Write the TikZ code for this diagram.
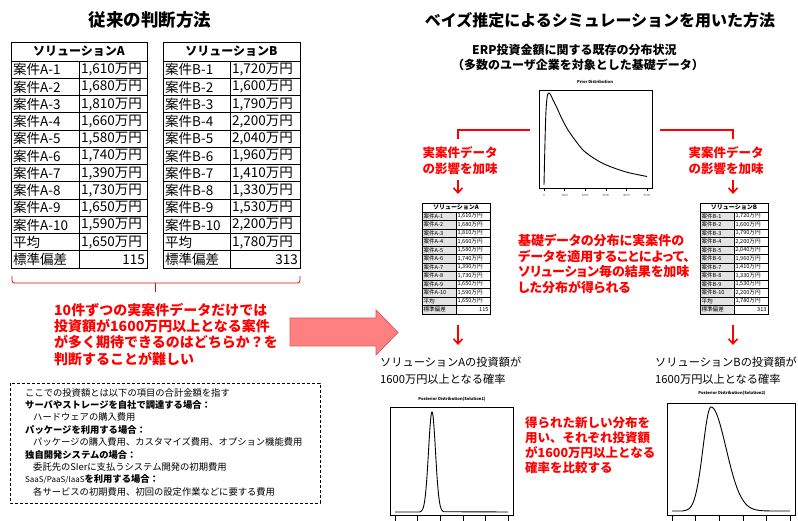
\documentclass[tikz,border=0pt]{standalone}
\usepackage{fontspec}
\setmainfont{Noto Sans CJK JP}
\newfontfamily\pfont{Noto Sans CJK JP}[RawFeature=+palt]
\usetikzlibrary{arrows.meta}
\definecolor{myred}{HTML}{FF0000}
\definecolor{arrowfill}{HTML}{FF8080}
\definecolor{arrowedge}{HTML}{E25A5A}

\newcommand\mytab[9]{%
  \pgfmathsetmacro\tabbot{#5+#6+12*#7}%
  \fill[tabfill] (#2,{#5+#6}) rectangle (#3,\tabbot);
  \draw[tabline] (#2,#5) rectangle (#4,\tabbot);
  \draw[tabline] (#3,{#5+#6}) -- (#3,\tabbot);
  \foreach \k in {0,...,11} \draw[tabline] (#2,{#5+#6+\k*#7}) -- (#4,{#5+#6+\k*#7});
  \node[tabhead] (#1-h) at ({(#2+#4)/2},{#5+#6/2}) {ソリューション#8};
  \foreach \v [count=\i] in {#9} {
    \pgfmathsetmacro\yc{#5+#6+(\i-0.5)*#7}
    \ifnum\i<11
      \node[tabcell,anchor=west] (#1-l\i) at (#2,\yc) {案件#8-\i};
      \node[tabcell,anchor=west] (#1-v\i) at (#3,\yc) {\v 万円};
    \else\ifnum\i=11
      \node[tabcell,anchor=west] (#1-l\i) at (#2,\yc) {平均};
      \node[tabcell,anchor=west] (#1-v\i) at (#3,\yc) {\v 万円};
    \else
      \node[tabcell,anchor=west] (#1-l\i) at (#2,\yc) {標準偏差};
      \node[tabcell,anchor=east] (#1-v\i) at (#4,\yc) {\v};
    \fi\fi
  }
}

\begin{document}
\begin{tikzpicture}[x=1pt,y=-1pt,
  title/.style={font=\bfseries\fontsize{17.5}{20}\selectfont, inner sep=0pt},
  title2/.style={font=\bfseries\fontsize{16}{19}\selectfont, inner sep=0pt},
  tabline/.style={line width=0.9pt, black},
  tabfill/.style={fill=white},
  tabhead/.style={font=\bfseries\fontsize{12}{14}\selectfont, inner sep=0pt},
  tabcell/.style={font=\fontsize{13.5}{15}\selectfont, inner xsep=2pt, inner ysep=0pt},
  redbig/.style={font=\bfseries\fontsize{14}{16}\selectfont, text=myred, inner sep=0pt, anchor=west},
  redmid/.style={font=\bfseries\fontsize{12.5}{15}\selectfont, text=myred, inner sep=0pt, anchor=west},
  redp/.style={font=\pfont\bfseries\fontsize{13}{15}\selectfont, text=myred, inner sep=0pt, anchor=west},
  redc/.style={font=\bfseries\fontsize{12.5}{15}\selectfont, text=myred, inner sep=0pt},
  note/.style={font=\fontsize{9.3}{11}\selectfont, inner sep=0pt, anchor=west},
  blk/.style={font=\fontsize{11.2}{14}\selectfont, inner sep=0pt, anchor=west},
  sub/.style={font=\bfseries\fontsize{12}{14}\selectfont, inner sep=0pt, anchor=west},
  redline/.style={myred, line width=2pt},
  redarrow/.style={myred, line width=1.6pt, -{Straight Barb[length=5pt,width=9pt,line width=1.6pt]}},
  plotbox/.style={draw, line width=0.8pt, inner sep=0pt},
  curve/.style={line width=0.9pt},
  ptitle/.style={font=\bfseries\fontsize{4}{5}\selectfont, inner sep=0pt},
  tick/.style={line width=0.5pt},
  ticklab/.style={font=\fontsize{3}{4}\selectfont, inner sep=0pt, text=black!70}
]
\useasboundingbox (0,0) rectangle (798,521);
\fill[white] (0,0) rectangle (798,521);

% ---------- titles ----------
\node[title] (t1) at (150,20) {従来の判断方法};
\node[title2] (t2) at (600,20) {ベイズ推定によるシミュレーションを用いた方法};

% ---------- big tables ----------
\mytab{TA}{11}{79}{147}{42}{19}{17.25}{A}{{1,610},{1,680},{1,810},{1,660},{1,580},{1,740},{1,390},{1,730},{1,650},{1,590},{1,650},{115}}
\mytab{TB}{163}{230}{300}{42}{19}{17.25}{B}{{1,720},{1,600},{1,790},{2,200},{2,040},{1,960},{1,410},{1,330},{1,530},{2,200},{1,780},{313}}

% ---------- bracket ----------
\coordinate (brL) at (12,276);
\coordinate (brR) at (300,276);
\coordinate (brM) at (155,283);
\coordinate (brT) at (155,292);
\draw[myred, line width=0.8pt, rounded corners=2.5pt] (brL) -- (12,283) -- (300,283) -- (brR);
\draw[myred, line width=0.8pt] (brM) -- (brT);

% ---------- red question text ----------
\foreach \t [count=\i] in {10件ずつの実案件データだけでは,投資額が1600万円以上となる案件,が多く期待できるのはどちらか？を,判断することが難しい}
  \node[redbig] (q\i) at (54,{310+16.2*(\i-1)}) {\t};

% ---------- big block arrow ----------
\draw[fill=arrowfill, draw=arrowedge, line width=0.8pt]
  (290,318) -- (376,318) -- (376,310) -- (398,332.5) -- (376,355) -- (376,346) -- (290,346) -- cycle;

% ---------- dashed note box ----------
\draw[dashed, line width=0.8pt, dash pattern=on 3pt off 2pt] (10,383) rectangle (320,503);
\node[note] (n1) at (25,392.5) {ここでの投資額とは以下の項目の合計金額を指す};
\node[note] (n2) at (25,404.9) {\textbf{サーバやストレージを自社で調達する場合：}};
\node[note] (n3) at (33,417.3) {ハードウェアの購入費用};
\node[note] (n4) at (25,429.7) {\textbf{パッケージを利用する場合：}};
\node[note] (n5) at (33,442.1) {パッケージの購入費用、カスタマイズ費用、オプション機能費用};
\node[note] (n6) at (25,454.5) {\textbf{独自開発システムの場合：}};
\node[note] (n7) at (33,466.9) {委託先のSIerに支払うシステム開発の初期費用};
\node[note] (n8) at (25,479.3) {{\fontsize{8}{10}\selectfont SaaS/PaaS/IaaS}\textbf{を利用する場合：}};
\node[note] (n9) at (33,491.7) {各サービスの初期費用、初回の設定作業などに要する費用};

% ---------- subtitle ----------
\node[sub] (s1) at (472,50) {ERP投資金額に関する既存の分布状況};
\node[sub] (s2) at (452,64.5) {（多数のユーザ企業を対象とした基礎データ）};

% ---------- prior plot ----------
\node[ptitle] (prt) at (595,82) {Prior Distribution};
\node[plotbox, minimum width=113pt, minimum height=98pt] (prior) at (595.5,139) {};
\draw[curve] plot[smooth, tension=0.55] coordinates {(544,185) (544.8,150) (545.8,115) (547,98) (548.5,93) (550.5,94.5) (553,100) (557,108) (562,119) (568,130) (575,140) (583,150) (592,157) (602,163) (614,168) (628,172.5) (647,176.5)};
\foreach \lab [count=\k from 0] in {0,1000,2000,3000,4000,5000} {
  \draw[tick] ({544+20.6*\k},188) -- ({544+20.6*\k},191);
  \node[ticklab] (pl\k) at ({544+20.6*\k},195) {\lab};
}

% ---------- red connectors from prior ----------
\coordinate (cL0) at (530,130);
\coordinate (cL1) at (458,139);
\coordinate (cR0) at (660,130);
\coordinate (cR1) at (733,139);
\draw[redline] (cL0) -| (cL1);
\draw[redline] (cR0) -| (cR1);
\node[redc] (effA1) at (460,153) {実案件データ};
\node[redc] (effA2) at (460,168.5) {の影響を加味};
\node[redc] (effB1) at (726,153) {実案件データ};
\node[redc] (effB2) at (726,168.5) {の影響を加味};
\coordinate (dA0) at (458,180);
\coordinate (dA1) at (458,194);
\coordinate (dB0) at (733,180);
\coordinate (dB1) at (733,194);
\draw[redarrow] (dA0) -- (dA1);
\draw[redarrow] (dB0) -- (dB1);

% ---------- small tables ----------
\begin{scope}[
  tabhead/.style={font=\bfseries\fontsize{6}{7}\selectfont, inner sep=0pt},
  tabcell/.style={font=\fontsize{5.6}{6.5}\selectfont, inner xsep=1.3pt, inner ysep=0pt},
  tabline/.style={line width=0.8pt, black},
  tabfill/.style={fill=gray!22}]
\mytab{SA}{422}{456}{490}{203}{9}{8.5}{A}{{1,610},{1,680},{1,810},{1,660},{1,580},{1,740},{1,390},{1,730},{1,650},{1,590},{1,650},{115}}
\mytab{SB}{700}{734}{768}{203}{9}{8.5}{B}{{1,720},{1,600},{1,790},{2,200},{2,040},{1,960},{1,410},{1,330},{1,530},{2,200},{1,780},{313}}
\end{scope}

% ---------- middle red text ----------
\foreach \t [count=\i] in {基礎データの分布に実案件の,データを適用することによって、,ソリューション毎の結果を加味,した分布が得られる}
  \node[redp] (m\i) at (518,{240.5+15.7*(\i-1)}) {\t};

% ---------- lower arrows ----------
\coordinate (eA0) at (458,325);
\coordinate (eA1) at (458,345);
\coordinate (eB0) at (733,325);
\coordinate (eB1) at (733,345);
\draw[redarrow] (eA0) -- (eA1);
\draw[redarrow] (eB0) -- (eB1);

% ---------- result texts ----------
\node[blk] (rA1) at (380,362) {ソリューションAの投資額が};
\node[blk] (rA2) at (380,379) {1600万円以上となる確率};
\node[blk] (rB1) at (655,362) {ソリューションBの投資額が};
\node[blk] (rB2) at (655,379) {1600万円以上となる確率};

% ---------- posterior A ----------
\node[ptitle] (pat) at (452,399) {Posterior Distribution(Solution1)};
\node[plotbox, minimum width=123pt, minimum height=108pt] (postA) at (451.5,461) {};
\draw[curve] (395,512) -- (420,512)
  -- plot[domain=420:444, samples=60] (\x, {512-100*exp(-((\x-432)^2)/24.5)})
  -- (508,512);
\foreach \k in {0,...,5} \draw[tick] ({395+22.6*\k},515) -- ({395+22.6*\k},521);

% ---------- posterior B ----------
\node[ptitle] (pbt) at (732,393) {Posterior Distribution(Solution2)};
\node[plotbox, minimum width=128pt, minimum height=112pt] (postB) at (731,459) {};
\draw[curve] (672,511) -- (683,511)
  -- plot[domain=683:711, samples=50] (\x, {511-104*exp(-((\x-711)^2)/128)})
  -- plot[domain=711:772, samples=70] (\x, {511-104*exp(-((\x-711)^2)/450)})
  -- (790,511);
\foreach \k in {0,...,5} \draw[tick] ({672+23.6*\k},515) -- ({672+23.6*\k},521);

% ---------- lower red text ----------
\foreach \t [count=\i] in {得られた新しい分布を,用い、それぞれ投資額,が1600万円以上となる,確率を比較する}
  \node[redmid] (c\i) at (525,{423+15*(\i-1)}) {\t};

\end{tikzpicture}
\end{document}
